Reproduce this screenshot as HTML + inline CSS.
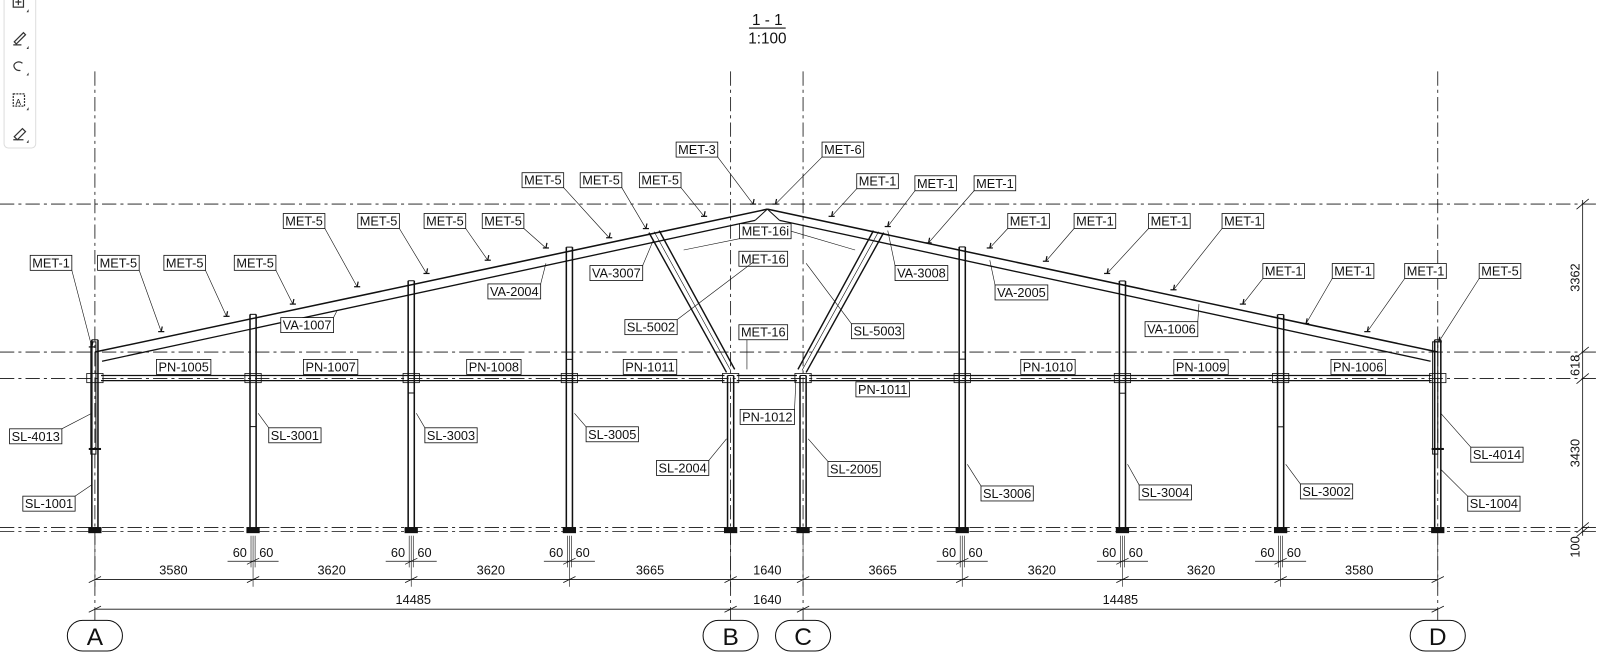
<!DOCTYPE html>
<html><head><meta charset="utf-8"><style>
html,body{margin:0;padding:0;background:#fff;}
svg{display:block;}
text{font-family:"Liberation Sans",sans-serif;fill:#111;}
.lb{font-size:12.5px;text-anchor:middle;}
.dm{font-size:12.5px;text-anchor:middle;}
</style></head><body>
<svg id="s" width="1600" height="670" viewBox="0 0 1568 656.6" preserveAspectRatio="none" xmlns="http://www.w3.org/2000/svg">
<g id="geo" stroke="#111" fill="none" stroke-width="1"></g>
<!-- toolbar -->
<g stroke="#999" fill="none">
<rect x="4" y="-6" width="31" height="151" rx="4" stroke="#ddd" fill="#fff"/>
<g stroke="#333" stroke-width="1.2">
<rect x="13" y="-2" width="10" height="9"/><path d="M18 -1v6M15 2h6"/>
<path d="M14 41l9-9 2 2-9 9z M13 44h8"/>
<path d="M22 62c-4-3-10 0-8 4s6 3 6 3"/>
<rect x="13" y="92" width="11" height="12" stroke-dasharray="2 1"/>
<path d="M14 134l8-8 3 3-8 8z M13 137h10"/>
</g>
<g fill="#333" stroke="none"><path d="M26 12l2-3v3z M26 48l2-3v3z M26 74l2-3v3z M26 108l2-3v3z M26 140l2-3v3z"/></g>
</g>
<text x="18" y="103" style="font-size:8px;text-anchor:middle">A</text>
<!-- title -->
<text x="752" y="24.5" style="font-size:15px;text-anchor:middle">1 - 1</text>
<line x1="734" y1="27.5" x2="770" y2="27.5" stroke="#111"/>
<text x="752" y="42.5" style="font-size:15px;text-anchor:middle">1:100</text>
<!-- bubbles -->
<g stroke="#111" fill="#fff">
<rect x="66" y="608" width="54" height="30" rx="15"/>
<rect x="689" y="608" width="54" height="30" rx="15"/>
<rect x="760" y="608" width="54" height="30" rx="15"/>
<rect x="1382" y="608" width="54" height="30" rx="15"/>
</g>
<g style="font-size:24px;text-anchor:middle">
<text x="93" y="632">A</text><text x="716" y="632">B</text><text x="787" y="632">C</text><text x="1409" y="632">D</text>
</g>
<!-- dims -->
<g class="dm">
<text x="170" y="563">3580</text><text x="325" y="563">3620</text><text x="481" y="563">3620</text><text x="637" y="563">3665</text>
<text x="752" y="563">1640</text><text x="865" y="563">3665</text><text x="1021" y="563">3620</text><text x="1177" y="563">3620</text><text x="1332" y="563">3580</text>
<text x="405" y="592">14485</text><text x="752" y="592">1640</text><text x="1098" y="592">14485</text>
<text x="235" y="546">60</text><text x="261" y="546">60</text>
<text x="390" y="546">60</text><text x="416" y="546">60</text>
<text x="545" y="546">60</text><text x="571" y="546">60</text>
<text x="930" y="546">60</text><text x="956" y="546">60</text>
<text x="1087" y="546">60</text><text x="1113" y="546">60</text>
<text x="1242" y="546">60</text><text x="1268" y="546">60</text>
<text transform="translate(1548,272) rotate(-90)">3362</text>
<text transform="translate(1548,358) rotate(-90)">618</text>
<text transform="translate(1548,444) rotate(-90)">3430</text>
<text transform="translate(1548,536) rotate(-90)">100</text>
</g>
<!-- labels -->
<g id="labels" class="lb">
<text x="50" y="262">MET-1</text><text x="116" y="262">MET-5</text><text x="181" y="262">MET-5</text><text x="250" y="262">MET-5</text>
<text x="298" y="221">MET-5</text><text x="371" y="221">MET-5</text><text x="436" y="221">MET-5</text><text x="493" y="221">MET-5</text>
<text x="532" y="181">MET-5</text><text x="589" y="181">MET-5</text><text x="647" y="181">MET-5</text>
<text x="683" y="151">MET-3</text><text x="826" y="151">MET-6</text>
<text x="860" y="182">MET-1</text><text x="917" y="184">MET-1</text><text x="975" y="184">MET-1</text>
<text x="1008" y="221">MET-1</text><text x="1073" y="221">MET-1</text><text x="1146" y="221">MET-1</text><text x="1218" y="221">MET-1</text>
<text x="1258" y="270">MET-1</text><text x="1326" y="270">MET-1</text><text x="1397" y="270">MET-1</text><text x="1470" y="270">MET-5</text>
<text x="301" y="323">VA-1007</text><text x="504" y="290">VA-2004</text><text x="604" y="272">VA-3007</text>
<text x="903" y="272">VA-3008</text><text x="1001" y="291">VA-2005</text><text x="1148" y="327">VA-1006</text>
<text x="750" y="231">MET-16i</text><text x="748" y="258">MET-16</text>
<text x="638" y="325">SL-5002</text><text x="860" y="329">SL-5003</text><text x="748" y="330">MET-16</text>
<text x="180" y="364">PN-1005</text><text x="324" y="364">PN-1007</text><text x="484" y="364">PN-1008</text><text x="637" y="364">PN-1011</text>
<text x="752" y="413">PN-1012</text><text x="865" y="386">PN-1011</text>
<text x="1027" y="364">PN-1010</text><text x="1177" y="364">PN-1009</text><text x="1331" y="364">PN-1006</text>
<text x="35" y="432">SL-4013</text><text x="48" y="498">SL-1001</text><text x="289" y="431">SL-3001</text><text x="442" y="431">SL-3003</text>
<text x="600" y="430">SL-3005</text><text x="669" y="463">SL-2004</text><text x="837" y="464">SL-2005</text>
<text x="987" y="488">SL-3006</text><text x="1142" y="487">SL-3004</text><text x="1300" y="486">SL-3002</text>
<text x="1467" y="450">SL-4014</text><text x="1464" y="498">SL-1004</text>
</g>
</svg>
<script>
var NS="http://www.w3.org/2000/svg",G=document.getElementById('geo');
function L(x1,y1,x2,y2,a){var e=document.createElementNS(NS,'line');e.setAttribute('x1',x1);e.setAttribute('y1',y1);e.setAttribute('x2',x2);e.setAttribute('y2',y2);if(a)for(var k in a)e.setAttribute(k,a[k]);G.appendChild(e);return e;}
function R(x,y,w,h,a){var e=document.createElementNS(NS,'rect');e.setAttribute('x',x);e.setAttribute('y',y);e.setAttribute('width',w);e.setAttribute('height',h);if(a)for(var k in a)e.setAttribute(k,a[k]);G.appendChild(e);return e;}
var dd={'stroke-dasharray':'14 4 3 4','stroke-width':0.8};
[200,345,371,517,521].forEach(function(y){L(0,y,1568,y,dd);});
[93,716,787,1409].forEach(function(x){L(x,70,x,608,dd);});
function yl(x){return 345-(x-93)*0.2125;} function yr(x){return 345-(1409-x)*0.2125;}
L(93,345,752,205,{'stroke-width':1.5});L(1409,345,752,205,{'stroke-width':1.5});
L(100,354,740,216,{'stroke-width':1.3});L(1402,354,764,216,{'stroke-width':1.3});
L(740,216,752,205);L(764,216,752,205);
L(636,228,712,365,{'stroke-width':1.4});L(646,226,720,362,{'stroke-width':1.4});L(641,227,716,363,{'stroke-width':0.6});
L(866,228,790,365,{'stroke-width':1.4});L(856,226,782,362,{'stroke-width':1.4});L(861,227,786,363,{'stroke-width':0.6});
var cols=[93,248,403,558,716,787,943,1100,1255,1409];
cols.forEach(function(x,i){var top;
 if(i==0||i==9)top=333;else if(x<752)top=yl(x)-4;else top=yr(x)-4;
 if(i==4||i==5)top=368;
 L(x-3,top,x-3,521,{'stroke-width':1.5});L(x+3,top,x+3,521,{'stroke-width':1.5});L(x-3,top,x+3,top);
 R(x-6,517,12,5,{fill:'#111'});
 if(i>0&&i<9&&i!=4&&i!=5){L(x-3,top+110,x+3,top+110);}
});
L(87,440,99,440,{'stroke-width':2});L(1403,440,1415,440,{'stroke-width':2});
R(89,335,5,110,{'stroke-width':1});R(1404,335,5,110,{'stroke-width':1});
L(99,368,710,368,{'stroke-width':1.3});L(99,373,710,373,{'stroke-width':1.3});
L(722,368,781,368,{'stroke-width':1.3});L(722,373,781,373,{'stroke-width':1.3});
L(793,368,1403,368,{'stroke-width':1.3});L(793,373,1403,373,{'stroke-width':1.3});
cols.forEach(function(x){R(x-8,366,16,9,{'stroke-width':0.8});});
L(93,568,1409,568,{'stroke-width':0.8});L(93,597,1409,597,{'stroke-width':0.8});
cols.forEach(function(x){L(x-6,571,x+6,565,{'stroke-width':0.8});L(x,525,x,575,{'stroke-width':0.6});});
[93,716,787,1409].forEach(function(x){L(x-6,600,x+6,594,{'stroke-width':0.8});});
[248,403,558,943,1100,1255].forEach(function(x){L(x-25,550,x+25,550,{'stroke-width':0.7});L(x-2,525,x-2,556,{'stroke-width':0.6});L(x+2,525,x+2,556,{'stroke-width':0.6});L(x-6,553,x+6,547,{'stroke-width':0.7});});
L(1551,196,1551,525,{'stroke-width':0.8});
[200,345,371,517,521].forEach(function(y){L(1545,y+5,1557,y-5,{'stroke-width':0.8});});
var T=[[90,340],[158,325],[222,310],[287,298],[350,281],[418,268],[478,255],[535,243],[597,233],[633,224],[690,212],[738,200],[760,200],[815,212],[870,222],[910,238],[970,243],[1025,256],[1085,268],[1150,284],[1218,298],[1280,317],[1340,325],[1410,335],
[330,305],[535,258],[640,236],[870,226],[970,255],[1175,298],
[670,245],null,[738,257],[790,258],[732,362],
null,null,null,null,[780,372],null,null,null,null,
[90,405],[90,475],[253,405],[408,405],[563,405],[712,430],[792,430],[948,455],[1105,455],[1260,455],[1412,405],[1412,460]];
var ts=document.querySelectorAll('#labels text');
ts.forEach(function(t,i){var b=t.getBBox();var x=b.x-2,y=b.y,w=b.width+4,h=b.height;
 R(x,y,w,h,{fill:'#fff','stroke-width':0.8});
 var p=T[i];if(p){var cx=Math.max(x,Math.min(x+w,p[0])),cy=p[1]<y?y:(p[1]>y+h?y+h:y+h/2);L(cx,cy,p[0],p[1],{'stroke-width':0.6});
  if(i<24){L(p[0]-3,p[1],p[0]+3,p[1],{'stroke-width':1.2});L(p[0],p[1],p[0]+1,p[1]-5,{'stroke-width':1.2});}}
 if(i==30)L(x+w,y+h/2,838,245,{'stroke-width':0.6});
});
var lab=document.getElementById('labels');G.parentNode.appendChild(lab);
</script>
</body></html>
